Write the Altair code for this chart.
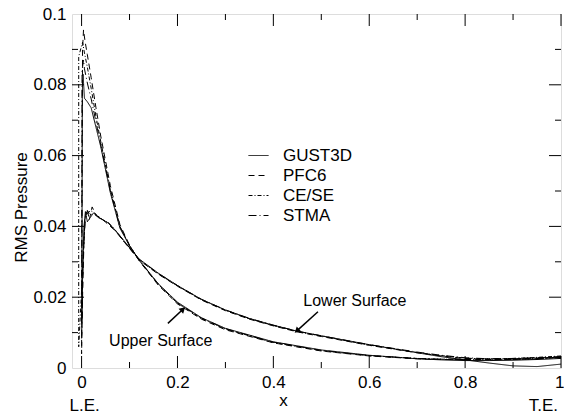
import altair as alt
import pandas as pd

FONT = "Liberation Sans"
SERIES = ["GUST3D", "PFC6", "CE/SE", "STMA"]
DASHES = [[1, 0], [6, 4], [4, 2, 1, 2], [8, 3, 1, 3]]

# Each series runs upper surface (T.E. -> L.E.) then lower surface (L.E. -> T.E.)
UP_X = [1.0, 0.95, 0.9, 0.85, 0.8, 0.75, 0.7, 0.6, 0.5, 0.4, 0.3, 0.25, 0.2,
        0.16, 0.12, 0.1, 0.08, 0.06, 0.04, 0.03, 0.02, 0.012]
LO_X = [0.09, 0.12, 0.16, 0.2, 0.25, 0.3, 0.35, 0.4, 0.45, 0.5, 0.6, 0.7,
        0.75, 0.8, 0.85, 0.9, 0.95, 1.0]

gust_up_y = [0.0027, 0.0024, 0.0022, 0.0021, 0.0021, 0.0023, 0.0026, 0.0036, 0.0051,
             0.0074, 0.0112, 0.0142, 0.0186, 0.0238, 0.0305, 0.0345, 0.0395, 0.0495,
             0.0625, 0.068, 0.0735, 0.0752]
gust_le_x = [0.006, 0.003, 0.0015, 0.0005, 0.002, 0.005, 0.008, 0.012, 0.018, 0.025,
             0.035, 0.045, 0.055, 0.07]
gust_le_y = [0.0762, 0.083, 0.078, 0.013, 0.025, 0.040, 0.0442, 0.0413, 0.0425, 0.0438,
             0.0425, 0.0418, 0.0410, 0.0390]
gust_lo_y = [0.0357, 0.0308, 0.0268, 0.0233, 0.0194, 0.0164, 0.0140, 0.0121, 0.0104,
             0.0091, 0.0066, 0.0043, 0.0032, 0.0023, 0.0014, 0.0006, 0.0004, 0.0011]

pfc_up_y = [0.0030, 0.0028, 0.0026, 0.0025, 0.0024, 0.0024, 0.0026, 0.0034, 0.0048,
            0.0071, 0.0108, 0.0138, 0.0181, 0.0234, 0.0303, 0.0347, 0.0405, 0.0515,
            0.0655, 0.0735, 0.082, 0.0885]
pfc_le_x = [0.007, 0.004, 0.002, 0.0, 0.002, 0.005, 0.008, 0.012, 0.016, 0.022,
            0.03, 0.04, 0.05, 0.07]
pfc_le_y = [0.0925, 0.0955, 0.090, 0.004, 0.020, 0.036, 0.043, 0.0448, 0.0418, 0.0455,
            0.0432, 0.0424, 0.0412, 0.0388]
pfc_lo_y = [0.0354, 0.0305, 0.0265, 0.0231, 0.0192, 0.0162, 0.0138, 0.0119, 0.0102,
            0.0089, 0.0064, 0.0043, 0.0034, 0.0027, 0.0024, 0.0024, 0.0026, 0.0032]

cese_up_y = [0.0034, 0.0030, 0.0027, 0.0025, 0.0024, 0.0025, 0.0027, 0.0035, 0.0049,
             0.0072, 0.0110, 0.0140, 0.0183, 0.0236, 0.0304, 0.0346, 0.0400, 0.0505,
             0.064, 0.071, 0.079, 0.085]
cese_le_x = [0.006, 0.002, -0.006, -0.006, 0.003, 0.007, 0.012, 0.018, 0.025, 0.035,
             0.045, 0.055, 0.062, 0.07]
cese_le_y = [0.089, 0.092, 0.088, 0.006, 0.030, 0.042, 0.0435, 0.0445, 0.0440, 0.0428,
             0.0418, 0.0411, 0.0402, 0.0389]
cese_lo_y = [0.0355, 0.0306, 0.0266, 0.0232, 0.0193, 0.0163, 0.0139, 0.0120, 0.0103,
             0.0090, 0.0065, 0.0044, 0.0035, 0.0028, 0.0025, 0.0024, 0.0026, 0.0030]

stma_up_y = [0.0032, 0.0029, 0.0027, 0.0026, 0.0025, 0.0025, 0.0027, 0.0035, 0.0050,
             0.0073, 0.0111, 0.0141, 0.0184, 0.0237, 0.0305, 0.0346, 0.0398, 0.0500,
             0.063, 0.0695, 0.076, 0.0805]
stma_le_x = [0.006, 0.004, 0.001, 0.0, 0.003, 0.007, 0.012, 0.018, 0.025, 0.035,
             0.045, 0.055, 0.062, 0.07]
stma_le_y = [0.0845, 0.087, 0.084, 0.008, 0.030, 0.041, 0.0445, 0.0432, 0.0436, 0.0426,
             0.0418, 0.0412, 0.0401, 0.0390]
stma_lo_y = [0.0356, 0.0307, 0.0267, 0.0233, 0.0194, 0.0164, 0.0140, 0.0121, 0.0104,
             0.0091, 0.0066, 0.0045, 0.0036, 0.0029, 0.0026, 0.0025, 0.0027, 0.0031]

X_LABELS = [0, 0.2, 0.4, 0.6, 0.8, 1.0]
X_MINOR = [0.1, 0.3, 0.5, 0.7, 0.9]
Y_LABELS = [0, 0.02, 0.04, 0.06, 0.08, 0.1]
Y_MAJOR = [0.02, 0.04, 0.06, 0.08]
Y_MINOR = [0.01, 0.03, 0.05, 0.07, 0.09]

ANN_TEXT = ["Lower Surface", "Upper Surface"]
ANN_X = [0.57, 0.165]
ANN_Y = [0.0189, 0.0076]
ARR_X = [0.493, 0.18]
ARR_Y = [0.0159, 0.0126]
ARR_X2 = [0.449, 0.2115]
ARR_Y2 = [0.0105, 0.0166]
ARR_ANGLE = [228, 47]

rows = []
for name, upy, lex, ley, loy in [
    ("GUST3D", gust_up_y, gust_le_x, gust_le_y, gust_lo_y),
    ("PFC6", pfc_up_y, pfc_le_x, pfc_le_y, pfc_lo_y),
    ("CE/SE", cese_up_y, cese_le_x, cese_le_y, cese_lo_y),
    ("STMA", stma_up_y, stma_le_x, stma_le_y, stma_lo_y),
]:
    xs = UP_X + lex + LO_X
    ys = upy + ley + loy
    for i, (xv, yv) in enumerate(zip(xs, ys)):
        rows.append({"series": name, "x": xv, "y": yv, "order": i})
df = pd.DataFrame(rows)

W, H = 489, 354
xscale = alt.Scale(domain=[-0.02, 1.0], nice=False, zero=False)
yscale = alt.Scale(domain=[0, 0.1], nice=False, zero=False)

lines = alt.Chart(df).mark_line(color="black", strokeWidth=1, clip=True).encode(
    x=alt.X("x:Q", scale=xscale, axis=alt.Axis(
        values=X_LABELS, format="~g", ticks=False, domain=False, grid=False,
        labelFontSize=17, labelPadding=6, labelFlush=True, labelFlushOffset=3,
        labelOverlap=False, labelColor="black", labelFont=FONT,
        title="x", titleFontSize=17, titleFontWeight="normal", titleFont=FONT,
        titleColor="black", titleX=211, titleY=37, titleBaseline="alphabetic")),
    y=alt.Y("y:Q", scale=yscale, axis=alt.Axis(
        values=Y_LABELS, format="~g", ticks=False, domain=False, grid=False,
        labelFontSize=17, labelPadding=6, labelColor="black", labelFont=FONT,
        labelOverlap=False, labelFlush=False,
        title="RMS Pressure", titleFontSize=17, titleFontWeight="normal",
        titleFont=FONT, titleColor="black", titleX=-46, titleY=193,
        titleAlign="center", titleBaseline="alphabetic", titleAngle=270)),
    strokeDash=alt.StrokeDash("series:N", scale=alt.Scale(domain=SERIES, range=DASHES),
                              legend=alt.Legend(
                                  title=None, orient="none", legendX=176, legendY=131,
                                  symbolType="stroke", symbolSize=400,
                                  symbolStrokeWidth=1, symbolStrokeColor="black",
                                  labelFontSize=17, labelFont=FONT, labelColor="black",
                                  labelOffset=14, rowPadding=1, padding=0, labelLimit=200)),
    order="order:Q",
)

def tick_layer(vals, channel, start, end):
    d = pd.DataFrame({"t": vals})
    if channel == "x":
        enc = dict(x=alt.X("t:Q", scale=xscale, axis=None),
                   y=alt.value(start), y2=alt.value(end))
    else:
        enc = dict(y=alt.Y("t:Q", scale=yscale, axis=None),
                   x=alt.value(start), x2=alt.value(end))
    return alt.Chart(d).mark_rule(color="black", strokeWidth=1).encode(**enc)

ticks = [
    tick_layer(X_LABELS, "x", H, H - 12),
    tick_layer(X_MINOR, "x", H, H - 6),
    tick_layer(X_LABELS, "x", 0, 12),
    tick_layer(X_MINOR, "x", 0, 6),
    tick_layer(Y_MAJOR, "y", 0, 12),
    tick_layer(Y_MINOR, "y", 0, 6),
    tick_layer(Y_MAJOR, "y", W, W - 12),
    tick_layer(Y_MINOR, "y", W, W - 6),
]

ann_df = pd.DataFrame({"label": ANN_TEXT, "x": ANN_X, "y": ANN_Y})
ann = alt.Chart(ann_df).mark_text(font=FONT, fontSize=16, color="black",
                                  align="center", baseline="middle").encode(
    x=alt.X("x:Q", scale=xscale, axis=None),
    y=alt.Y("y:Q", scale=yscale, axis=None),
    text="label:N")

arr_df = pd.DataFrame({"x": ARR_X, "y": ARR_Y, "x2": ARR_X2, "y2": ARR_Y2,
                       "angle": ARR_ANGLE})
shafts = alt.Chart(arr_df).mark_rule(color="black", strokeWidth=1.5).encode(
    x=alt.X("x:Q", scale=xscale, axis=None),
    y=alt.Y("y:Q", scale=yscale, axis=None),
    x2="x2:Q", y2="y2:Q")
heads = alt.Chart(arr_df).mark_point(shape="triangle-up", filled=True, color="black",
                                     size=45, opacity=1).encode(
    x=alt.X("x2:Q", scale=xscale, axis=None),
    y=alt.Y("y2:Q", scale=yscale, axis=None),
    angle=alt.Angle("angle:Q", scale=None))

le_df = pd.DataFrame({"label": ["L.E."], "x": [0.0]})
te_df = pd.DataFrame({"label": ["T.E."], "x": [1.0]})
le = alt.Chart(le_df).mark_text(font=FONT, fontSize=17, color="black", align="center",
                                baseline="alphabetic", dx=3).encode(
    x=alt.X("x:Q", scale=xscale, axis=None), y=alt.value(H + 43), text="label:N")
te = alt.Chart(te_df).mark_text(font=FONT, fontSize=17, color="black", align="right",
                                baseline="alphabetic", dx=-3).encode(
    x=alt.X("x:Q", scale=xscale, axis=None), y=alt.value(H + 43), text="label:N")

chart = alt.layer(lines, *ticks, ann, shafts, heads, le, te).resolve_axis(
    x="independent", y="independent"
).properties(
    width=W, height=H,
    padding={"left": 72, "top": 14, "right": 3, "bottom": 47},
    autosize=alt.AutoSizeParams(type="none"),
    background="white",
).configure_view(stroke="black", strokeWidth=1).configure(font=FONT)

chart.save("out.html", embed_options={"renderer": "svg", "actions": False})
